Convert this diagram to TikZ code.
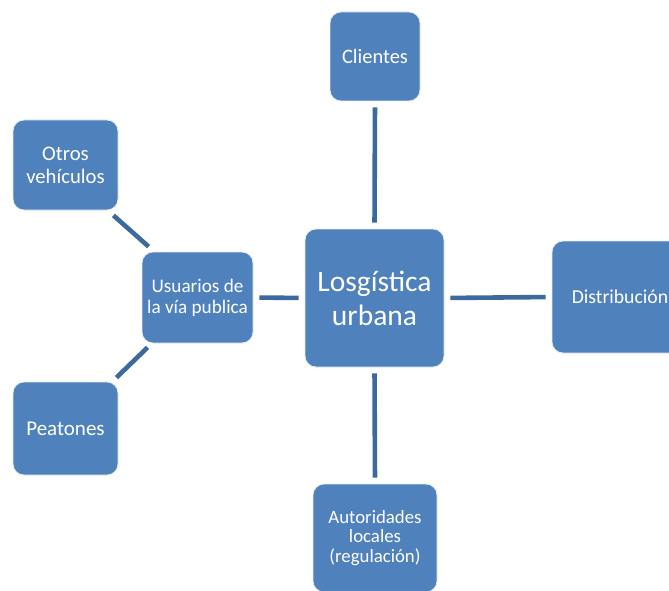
\documentclass[tikz,border=0pt]{standalone}
\usepackage{fontspec}
\setmainfont{Carlito}
\usetikzlibrary{calc}
\definecolor{boxblue}{HTML}{4F81BD}
\definecolor{linkblue}{HTML}{3D6A9E}
\begin{document}
\begin{tikzpicture}[x=1pt,y=-1pt,
  box/.style={draw=white!85!boxblue, line width=0.8pt, fill=boxblue, rounded corners=11pt,
    text=white, align=center, inner sep=2pt},
  link/.style={draw=linkblue, line width=4.6pt},
  gap/.style={shorten >=6pt, shorten <=6pt}]
\useasboundingbox (0,0) rectangle (669,591);
\clip (0,0) rectangle (669,591);
% hub
\node[box, minimum width=139pt, minimum height=138pt, font=\fontsize{29.5}{34}\selectfont] (hub) at (374.5,298) {Losgística\\urbana};
% spokes
\node[box, minimum width=90pt, minimum height=89pt, font=\fontsize{20.5}{24}\selectfont] (cli) at (375,56.5) {Clientes};
\node[box, minimum width=136pt, minimum height=112pt, font=\fontsize{19.7}{24}\selectfont] (dis) at (620,297) {Distribución};
\node[box, minimum width=124pt, minimum height=108pt, font=\fontsize{18.8}{19.5}\selectfont] (aut) at (375,538) {Autoridades\\locales\\(regulación)};
\node[box, minimum width=111pt, minimum height=91pt, font=\fontsize{19.2}{21}\selectfont] (usu) at (197.5,297.5) {Usuarios de\\la vía publica};
\node[box, minimum width=105pt, minimum height=90pt, font=\fontsize{20.7}{23}\selectfont] (otr) at (65.5,165) {Otros\\vehículos};
\node[box, minimum width=105pt, minimum height=93pt, font=\fontsize{21}{24}\selectfont] (pea) at (65.5,428.5) {Peatones};
% connectors
\draw[link, gap] (hub.north) -- (cli.south);
\draw[link, gap] (hub.east) -- (dis.west);
\draw[link, gap] (hub.south) -- (aut.north);
\draw[link, gap] (hub.west) -- (usu.east);
\draw[link] ($(usu.north west)+(7,-5)$) -- ($(otr.south east)+(-5,5)$);
\draw[link] ($(usu.south west)+(6,4)$) -- ($(pea.north east)+(-2,-4)$);
\end{tikzpicture}
\end{document}
